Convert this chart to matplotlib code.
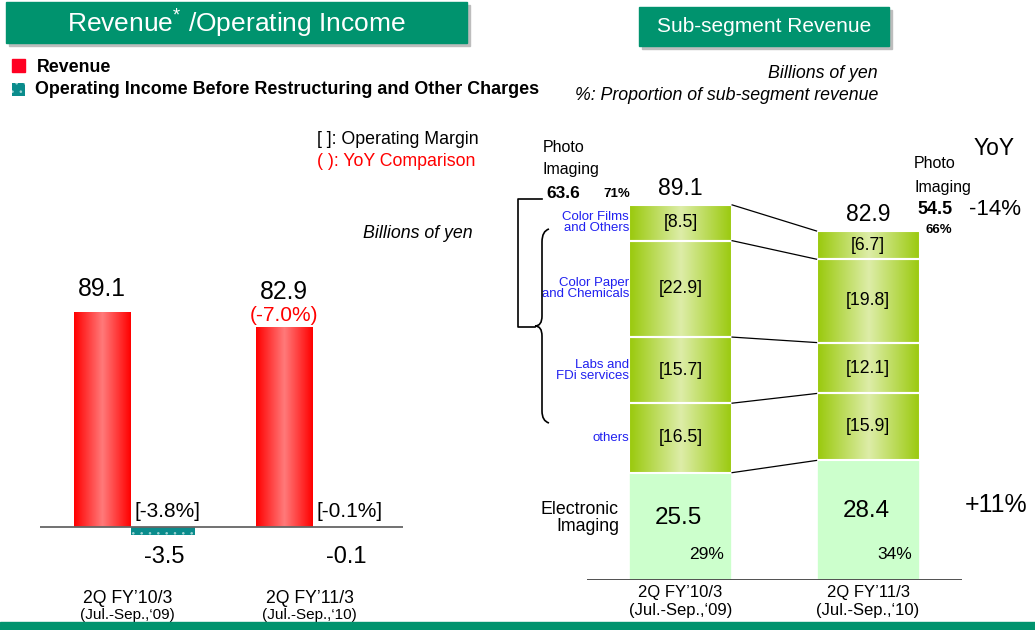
import numpy as np
import matplotlib
matplotlib.use('Agg')
import matplotlib.pyplot as plt
from matplotlib.patches import Rectangle, PathPatch
from matplotlib.path import Path
from matplotlib.colors import LinearSegmentedColormap

plt.rcParams['font.family'] = ['Liberation Sans', 'DejaVu Sans']
plt.rcParams['mathtext.fontset'] = 'custom'
plt.rcParams['mathtext.rm'] = 'Liberation Sans'
plt.rcParams['hatch.linewidth'] = 0.6

# left chart data
periods = ["2Q FY\u201910/3", "2Q FY\u201911/3"]
period_sub = ["(Jul.-Sep.,\u201809)", "(Jul.-Sep.,\u201810)"]
revenue = [89.1, 82.9]
op_income = [-3.5, -0.1]
op_margin = ["[-3.8%]", "[-0.1%]"]
rev_yoy = ["", "(-7.0%)"]

# right chart data (bottom to top)
electronic = [25.5, 28.4]
others = [16.5, 15.9]
labs = [15.7, 12.1]
paper = [22.9, 19.8]
films = [8.5, 6.7]
photo_names = ["others", "Labs and\nFDi services", "Color Paper\nand Chemicals", "Color Films\nand Others"]
photo_total = [63.6, 54.5]
photo_share = ["71%", "66%"]
elec_share = ["29%", "34%"]
photo_yoy = "-14%"
elec_yoy = "+11%"

GREEN = '#00936E'
TEAL = '#0A8C8C'
W, H = 1035, 630


def fx(x):
    return x / W


def fy(y):
    return 1 - y / H


def ftext(x, y, s, **kw):
    kw.setdefault('va', 'center')
    fig.text(fx(x), fy(y), s, **kw)


def grad(ax, bar, c_edge, c_mid):
    x0, y0 = bar.get_x(), bar.get_y()
    w, h = bar.get_width(), bar.get_height()
    cmap = LinearSegmentedColormap.from_list('g', [c_edge, c_mid, c_edge])
    img = ax.imshow(np.linspace(0, 1, 256).reshape(1, -1), cmap=cmap, aspect='auto',
                    extent=(x0, x0 + w, min(y0, y0 + h), max(y0, y0 + h)),
                    zorder=1.5, interpolation='bilinear')
    img.set_clip_path(bar)
    bar.set_facecolor('none')


fig = plt.figure(figsize=(10.35, 6.3), dpi=100)

# title boxes
for (x0, y0, x1, y1, s, fs) in [(6, 2, 467, 43, "Revenue$^{*}$ /Operating Income", 19),
                                (639, 7, 889, 46, "Sub-segment Revenue", 15)]:
    fig.patches.append(Rectangle((fx(x0 + 3), fy(y1 + 3)), (x1 - x0) / W, (y1 - y0) / H,
                                 transform=fig.transFigure, color='#BDBDBD', zorder=0))
    fig.patches.append(Rectangle((fx(x0), fy(y1)), (x1 - x0) / W, (y1 - y0) / H,
                                 transform=fig.transFigure, color=GREEN, zorder=1))
    ftext((x0 + x1) / 2, (y0 + y1) / 2, s, color='white', fontsize=fs, ha='center')

fig.patches.append(Rectangle((0, 0), 1, 8 / H, transform=fig.transFigure, color=GREEN))

# legend
fig.patches.append(Rectangle((fx(12), fy(72)), 13 / W, 13 / H, transform=fig.transFigure,
                             color='#FF0022'))
fig.patches.append(Rectangle((fx(12), fy(96)), 13 / W, 13 / H, transform=fig.transFigure,
                             facecolor=TEAL, edgecolor='#9FD4D4', hatch='..', lw=0))
ftext(37, 68, "Revenue", fontsize=12.8, fontweight='bold')
ftext(35, 90, "Operating Income Before Restructuring and Other Charges", fontsize=12.9,
      fontweight='bold')
ftext(317, 140, "[ ]: Operating Margin", fontsize=12.8)
ftext(317, 161, "( ): YoY Comparison", fontsize=12.8, color='#FF0000')
ftext(363, 233, "Billions of yen", fontsize=12.8, style='italic')

# ---- left chart
ax1 = fig.add_axes([fx(40), fy(551), 363 / W, 265 / H])
x = np.arange(len(revenue))
rev_bars = ax1.bar(x - 0.17, revenue, width=0.313, zorder=2, linewidth=0)
for b in rev_bars:
    grad(ax1, b, '#FF0000', '#FF7A7A')
ax1.bar(x + 0.165, op_income, width=0.352, facecolor=TEAL, edgecolor='#9FD4D4',
        hatch='..', linewidth=0, zorder=2)
ax1.axhline(0, color='#666666', lw=1.3, zorder=3)
for i in range(len(revenue)):
    if rev_yoy[i]:
        ax1.annotate(rev_yoy[i], (x[i] - 0.17, revenue[i]), xytext=(0, 12),
                     textcoords='offset pixels', ha='center', va='center',
                     fontsize=15, color='#FF0000')
        ax1.annotate(f"{revenue[i]}", (x[i] - 0.17, revenue[i]), xytext=(0, 35),
                     textcoords='offset pixels', ha='center', va='center', fontsize=17.8)
    else:
        ax1.annotate(f"{revenue[i]}", (x[i] - 0.17, revenue[i]), xytext=(0, 23),
                     textcoords='offset pixels', ha='center', va='center', fontsize=17.8)
    ax1.annotate(op_margin[i], (x[i] + 0.19, 0), xytext=(0, 15), textcoords='offset pixels',
                 ha='center', va='center', fontsize=15)
    ax1.annotate(f"{op_income[i]}", (x[i] + 0.17, 0), xytext=(0, -30),
                 textcoords='offset pixels', ha='center', va='center', fontsize=17)
    ax1.annotate(periods[i], (x[i] - 0.03, 0), xytext=(0, -72), textcoords='offset pixels',
                 ha='center', va='center', fontsize=12.7)
    ax1.annotate(period_sub[i], (x[i] - 0.03, 0), xytext=(0, -88), textcoords='offset pixels',
                 ha='center', va='center', fontsize=11)
ax1.set_xlim(-0.511, 1.484)
ax1.set_ylim(-10, 100)
ax1.axis('off')

# ---- right chart
ftext(878, 73, "Billions of yen", fontsize=12.8, style='italic', ha='right')
ftext(878, 96, "%: Proportion of sub-segment revenue", fontsize=12.8, style='italic', ha='right')

ax2 = fig.add_axes([fx(587), fy(580), 375 / W, 421 / H])
bw = 0.55
ax2.bar(x, electronic, width=bw, color='#CCFFCC', edgecolor='white', lw=1.2, zorder=2)
bottom = np.array(electronic, dtype=float)
tops = [bottom.copy()]
for k, seg in enumerate([others, labs, paper, films]):
    bars = ax2.bar(x, seg, width=bw, bottom=bottom, edgecolor='white', lw=1.5, zorder=2)
    for b in bars:
        grad(ax2, b, '#99C90A', '#DDEDA8')
    for i in range(len(seg)):
        ax2.text(x[i], bottom[i] + seg[i] / 2, f"[{seg[i]}]", ha='center', va='center',
                 fontsize=12.7, zorder=4)
    ax2.text(-bw / 2, bottom[0] + seg[0] / 2, photo_names[k], ha='right', va='center',
             fontsize=9.5, color='#2020F0', linespacing=0.9, zorder=4)
    bottom = bottom + np.array(seg)
    tops.append(bottom.copy())
for t in tops:
    ax2.plot([bw / 2, 1 - bw / 2], [t[0], t[1]], color='black', lw=0.9, zorder=3)
for i in range(len(electronic)):
    ax2.annotate(f"{bottom[i]:.1f}", (x[i], bottom[i]), xytext=(0, 16),
                 textcoords='offset pixels', ha='center', va='center', fontsize=16.5)
    ax2.text(x[i] - 0.01, electronic[i] * 0.58, f"{electronic[i]}", ha='center', va='center',
             fontsize=17.5, zorder=4)
    ax2.text(x[i] + 0.14, 6, elec_share[i], ha='center', va='center', fontsize=12.5, zorder=4)
    ax2.annotate(periods[i], (x[i], 0), xytext=(0, -13), textcoords='offset pixels',
                 ha='center', va='center', fontsize=12)
    ax2.annotate(period_sub[i], (x[i], 0), xytext=(0, -31), textcoords='offset pixels',
                 ha='center', va='center', fontsize=12)
ax2.axhline(0, color='#333333', lw=1.2, zorder=3)
ax2.set_xlim(-0.499, 1.501)
ax2.set_ylim(0, 100)
ax2.axis('off')

ftext(619, 518, "Electronic\nImaging", fontsize=12.8, ha='right', linespacing=0.95)

# photo imaging annotations
ftext(543, 147, "Photo", fontsize=11.5)
ftext(543, 170, "Imaging", fontsize=11.5)
ftext(546, 193, f"{photo_total[0]}", fontsize=12.5, fontweight='bold')
ftext(603, 194, photo_share[0], fontsize=9.5, fontweight='bold')
ftext(914, 164, "Photo", fontsize=11.5)
ftext(914, 187, "Imaging", fontsize=11.5)
ftext(917, 210, f"{photo_total[1]}", fontsize=13, fontweight='bold')
ftext(926, 230, photo_share[1], fontsize=9.5, fontweight='bold')
ftext(969, 210, photo_yoy, fontsize=16)
ftext(974, 148, "YoY", fontsize=16.5)
ftext(965, 505, elec_yoy, fontsize=18)

# brackets
sq = [(542, 199), (518, 199), (518, 327), (535, 327)]
fig.lines.append(plt.Line2D([fx(p[0]) for p in sq], [fy(p[1]) for p in sq],
                            transform=fig.transFigure, color='black', lw=1.2))
brace = [(549, 229), (542, 231), (542, 242), (542, 316), (542, 326), (535, 326),
         (542, 326), (542, 336), (542, 411), (542, 421), (549, 423)]
codes = [Path.MOVETO, Path.CURVE3, Path.CURVE3, Path.LINETO, Path.CURVE3, Path.CURVE3,
         Path.CURVE3, Path.CURVE3, Path.LINETO, Path.CURVE3, Path.CURVE3]
fig.patches.append(PathPatch(Path([(fx(a), fy(b)) for a, b in brace], codes),
                             transform=fig.transFigure, fill=False, lw=1.2))

plt.savefig('out.png', dpi=100)
